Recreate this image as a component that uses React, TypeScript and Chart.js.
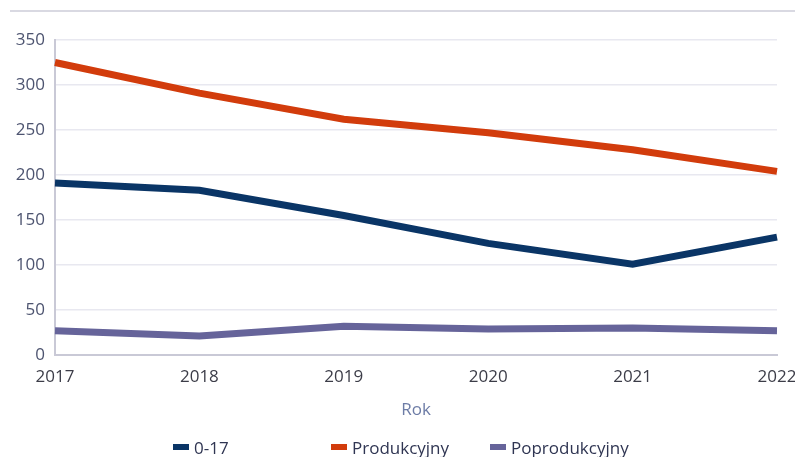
import React, { useEffect, useRef } from "react";
import { Chart, registerables } from "chart.js";

Chart.register(...registerables);

const years = ["2017", "2018", "2019", "2020", "2021", "2022"];
const youth = [191, 183, 155, 124, 101, 131];
const working = [325, 291, 262, 247, 228, 204];
const retired = [27, 21, 32, 29, 30, 27];
const yTicks = [0, 50, 100, 150, 200, 250, 300, 350];

const seriesNames = ["0-17", "Produkcyjny", "Poprodukcyjny"];
const seriesColors = ["#0a3566", "#d23c0c", "#66649a"];

export default function App() {
  const ref = useRef<HTMLCanvasElement>(null);

  useEffect(() => {
    if (!ref.current) return;
    const font = { family: "'Open Sans', sans-serif", size: 17 };
    const chart = new Chart(ref.current, {
      type: "line",
      data: {
        labels: years,
        datasets: [youth, working, retired].map((d, i) => ({
          label: seriesNames[i],
          data: d,
          borderColor: seriesColors[i],
          backgroundColor: seriesColors[i],
          borderWidth: 7,
          pointRadius: 0,
          tension: 0,
          fill: false,
        })),
      },
      options: {
        animation: false,
        responsive: false,
        layout: { padding: { top: 40, left: 0, right: 0, bottom: 32 } },
        plugins: { legend: { display: false }, tooltip: { enabled: false } },
        scales: {
          x: {
            offset: false,
            grid: { display: false, drawTicks: false },
            border: { display: true, color: "#c9c9d6", width: 2 },
            ticks: { color: "#3c3d48", font, padding: 12, maxRotation: 0 },
            title: { display: true, text: "Rok", color: "#6d7ca6", font, padding: { top: 8, bottom: 5 } },
            afterFit: (s: any) => {
              s.height = 70;
              s.paddingRight = 18;
              s.paddingLeft = 0;
            },
          },
          y: {
            min: 0,
            max: 350,
            afterBuildTicks: (s: any) => { s.ticks = yTicks.map((v) => ({ value: v })); },
            grid: { color: "#e8e8f0", lineWidth: 1.5, drawTicks: false },
            border: { display: true, color: "#c9c9d6", width: 2 },
            ticks: { color: "#4d5470", font, padding: 10 },
            afterFit: (s: any) => {
              s.width = 55;
              s.paddingTop = 0;
              s.paddingBottom = 0;
            },
          },
        },
      },
    });
    return () => chart.destroy();
  }, []);

  const legendLeft = [173, 331, 490];

  return (
    <div style={{ position: "fixed", left: 0, top: 0, width: 795, height: 457, background: "#fff", overflow: "hidden" }}>
      <div style={{ position: "absolute", left: 10, right: 0, top: 10, height: 2, background: "#d9d9e2" }} />
      <canvas ref={ref} width={795} height={457} style={{ position: "absolute", left: 0, top: 0 }} />
      {seriesNames.map((n, i) => (
        <div
          key={n}
          style={{
            position: "absolute",
            left: legendLeft[i],
            top: 435,
            height: 24,
            display: "flex",
            alignItems: "center",
            fontFamily: "'Open Sans', sans-serif",
            fontSize: 17,
            color: "#2f3552",
            whiteSpace: "nowrap",
          }}
        >
          <span style={{ display: "inline-block", width: 16, height: 6, background: seriesColors[i], marginRight: 5 }} />
          {n}
        </div>
      ))}
    </div>
  );
}
